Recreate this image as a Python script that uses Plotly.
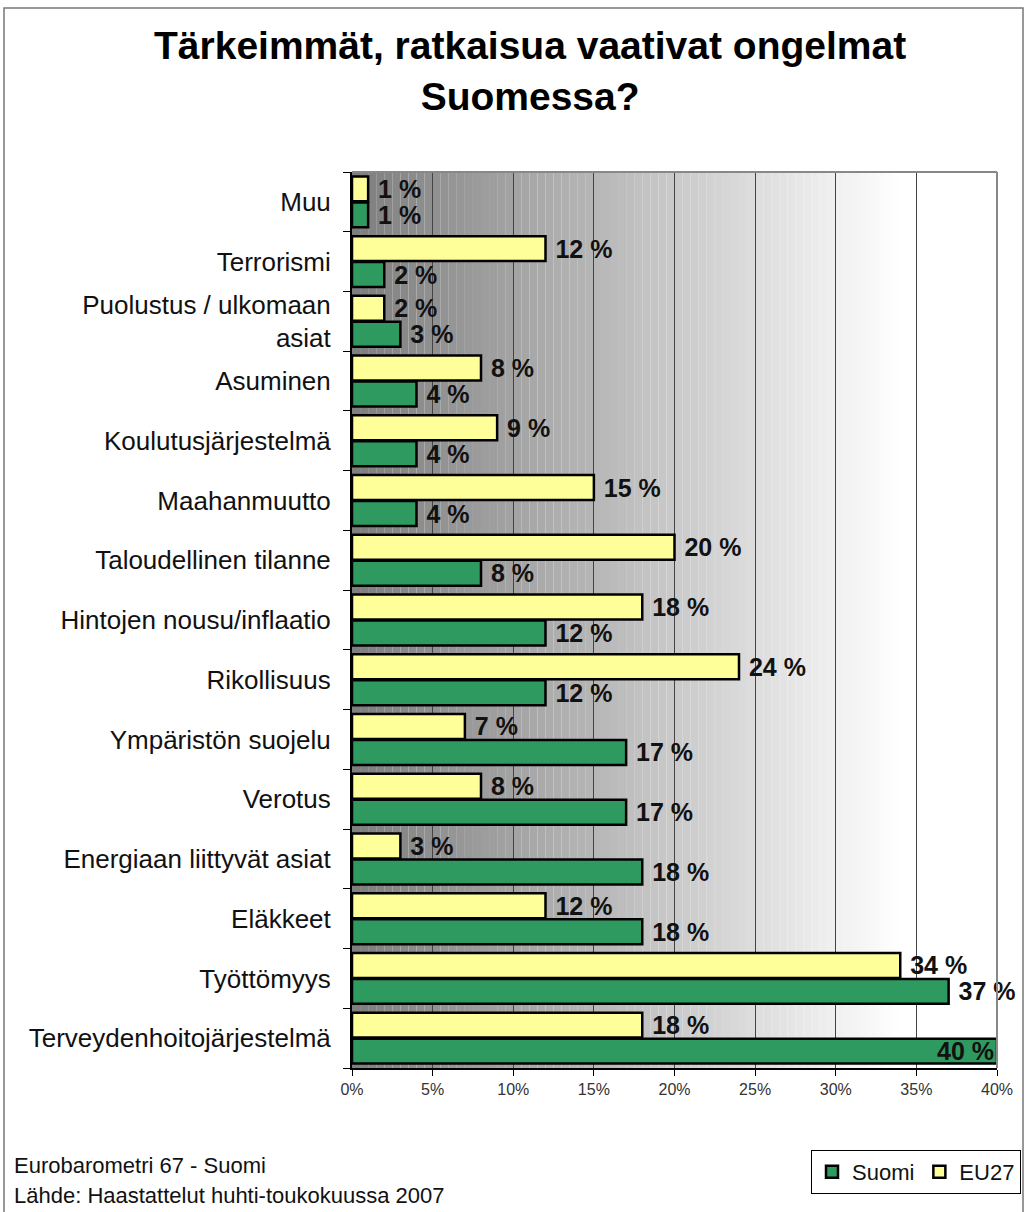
import plotly.graph_objects as go

categories = ["Muu", "Terrorismi", "Puolustus / ulkomaan<br>asiat", "Asuminen",
              "Koulutusjärjestelmä", "Maahanmuutto", "Taloudellinen tilanne",
              "Hintojen nousu/inflaatio", "Rikollisuus", "Ympäristön suojelu",
              "Verotus", "Energiaan liittyvät asiat", "Eläkkeet", "Työttömyys",
              "Terveydenhoitojärjestelmä"]
eu27 = [1, 12, 2, 8, 9, 15, 20, 18, 24, 7, 8, 3, 12, 34, 18]
suomi = [1, 2, 3, 4, 4, 4, 8, 12, 12, 17, 17, 18, 18, 37, 40]
x_ticks = [0, 5, 10, 15, 20, 25, 30, 35, 40]
x_max = 40

cats = categories[::-1]
GREEN = "#2E9A60"
YELLOW = "#FFFF99"
FONT = "Liberation Sans, Arial, sans-serif"
NB = "\u00a0"
W, H = 1027, 1212


def labels(vals):
    return [f"<b>{NB}{v} %</b>" for v in vals]


def positions(vals):
    return ["inside" if v >= x_max else "outside" for v in vals]


fig = go.Figure()
for name, vals, color in [("Suomi", suomi, GREEN), ("EU27", eu27, YELLOW)]:
    v = vals[::-1]
    fig.add_trace(go.Bar(
        y=cats, x=v, orientation="h", name=name,
        marker=dict(color=color, line=dict(color="black", width=2.5)),
        text=labels(v), textposition=positions(v), insidetextanchor="end",
        textfont=dict(family=FONT, size=25, color="#111"),
        insidetextfont=dict(family=FONT, size=25, color="#111"),
        outsidetextfont=dict(family=FONT, size=25, color="#111"),
        constraintext="none", cliponaxis=False,
    ))

# gradient background
shapes = []
n = 80
for i in range(n):
    x0 = x_max * i / n
    x1 = x_max * (i + 1) / n
    xm = (x0 + x1) / 2
    t = min(1.0, xm / 34.0)
    g = int(round(125 + (255 - 125) * t))
    shapes.append(dict(type="rect", xref="x", yref="paper", x0=x0, x1=x1, y0=0, y1=1,
                       fillcolor=f"rgb({g},{g},{g})", line=dict(width=0), layer="below"))
# top and right frame
shapes.append(dict(type="line", xref="paper", yref="paper", x0=0, x1=1, y0=1, y1=1,
                   line=dict(color="#888", width=2)))
shapes.append(dict(type="line", xref="paper", yref="paper", x0=1, x1=1, y0=0, y1=1,
                   line=dict(color="#888", width=2)))
# outer border (pixel positions relative to plot area: left 352, top 172, 645 x 896)
shapes.append(dict(type="rect", xref="paper", yref="paper",
                   x0=(4 - 352) / 645, x1=(1023 - 352) / 645,
                   y0=-0.2, y1=(1068 - 8) / 896, line=dict(color="#777", width=1.5)))

fig.update_layout(
    width=W, height=H,
    margin=dict(l=352, r=30, t=172, b=144, autoexpand=False),
    paper_bgcolor="white", plot_bgcolor="white",
    barmode="group", bargap=0.13, bargroupgap=0.04,
    shapes=shapes,
    font=dict(family=FONT),
    showlegend=True,
    legend=dict(orientation="h", xref="container", yref="container",
                x=1021 / W, xanchor="right", y=1 - 1150 / H, yanchor="top",
                bordercolor="black", borderwidth=1, bgcolor="white",
                font=dict(family=FONT, size=22, color="#111"),
                itemwidth=30, traceorder="normal"),
    xaxis=dict(range=[0, x_max], tickvals=x_ticks, ticktext=[f"{v}%" for v in x_ticks],
               showgrid=True, gridcolor="#444", gridwidth=1,
               showline=True, linecolor="black", linewidth=2,
               ticks="outside", ticklen=6, tickcolor="black", automargin=False,
               tickfont=dict(family=FONT, size=16, color="#333"), zeroline=False),
    yaxis=dict(showline=True, linecolor="black", linewidth=2,
               ticks="outside", ticklen=7, tickcolor="black", tickson="boundaries",
               showgrid=False, ticklabelstandoff=14, automargin=False,
               tickfont=dict(family=FONT, size=26, color="#111")),
    annotations=[
        dict(text="<b>Tärkeimmät, ratkaisua vaativat ongelmat<br>Suomessa?</b>",
             xref="paper", yref="paper", x=(530 - 352) / 645, y=(1068 - 71) / 896,
             xanchor="center", yanchor="middle", showarrow=False,
             font=dict(family=FONT, size=39, color="black")),
        dict(text="Eurobarometri 67 - Suomi", xref="paper", yref="paper",
             x=(12 - 352) / 645, y=(1068 - 1165) / 896, xanchor="left", yanchor="middle",
             showarrow=False, font=dict(family=FONT, size=22, color="#111")),
        dict(text="Lähde: Haastattelut huhti-toukokuussa 2007", xref="paper", yref="paper",
             x=(12 - 352) / 645, y=(1068 - 1195) / 896, xanchor="left", yanchor="middle",
             showarrow=False, font=dict(family=FONT, size=22, color="#111")),
    ],
)

fig.write_html(
    "out.html",
    config={"displayModeBar": False},
    post_script=("document.documentElement.style.overflow='hidden';"
                 "document.body.style.margin='0';document.body.style.overflow='hidden';"),
)
